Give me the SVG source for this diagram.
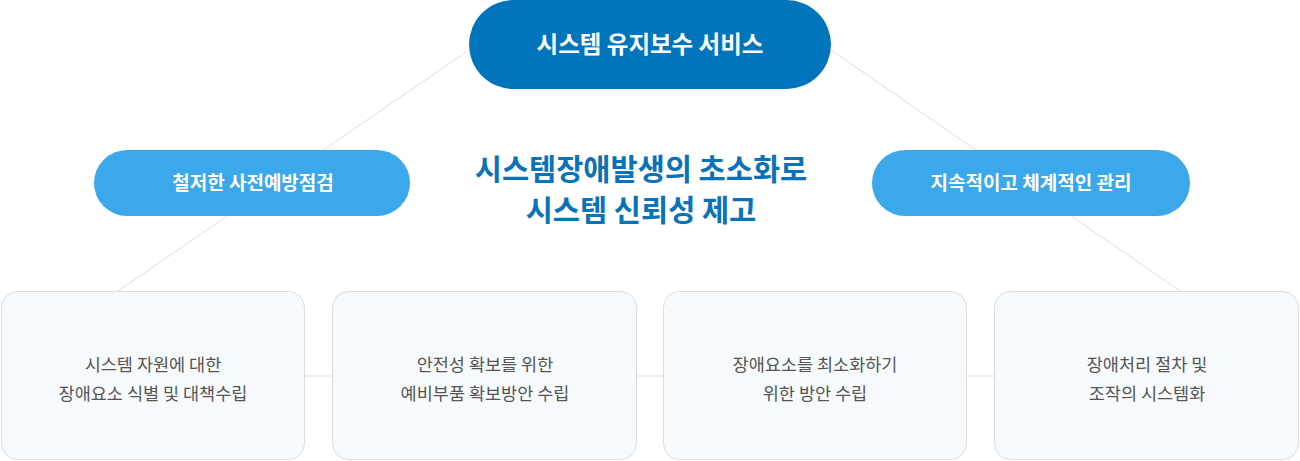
<svg xmlns="http://www.w3.org/2000/svg" width="1300" height="461" viewBox="0 0 1300 461">
<style>
text{font-family:"Noto Sans CJK KR","Noto Sans",sans-serif;text-anchor:middle}
.ln{stroke:#dddddd;stroke-width:1;fill:none}
.pill{fill:#3aa8ea}
.pt{fill:#fff;font-size:19px;font-weight:700}
.box{fill:#f7fafd;stroke:#dcdcdc;stroke-width:1}
.bt{fill:#555;font-size:17.5px}
.ct{fill:#0a72b9;font-size:29.5px;font-weight:700}
</style>
<rect width="1300" height="461" fill="#fff"/>
<g id="connectors">
<line class="ln" x1="469" y1="50" x2="118" y2="291"/>
<line class="ln" x1="831" y1="50" x2="1180" y2="291"/>
<line class="ln" x1="305" y1="376" x2="332" y2="376"/>
<line class="ln" x1="637" y1="376" x2="663" y2="376"/>
<line class="ln" x1="967" y1="376" x2="994" y2="376"/>
</g>
<g id="top">
<rect x="469" y="0" width="362" height="89" rx="44.5" fill="#0175bc"/>
<text x="650" y="53" fill="#fff" font-size="23.5" font-weight="700">시스템 유지보수 서비스</text>
</g>
<g id="left">
<rect class="pill" x="94" y="150" width="316" height="66" rx="33"/>
<text class="pt" x="253" y="190">철저한 사전예방점검</text>
</g>
<g id="right">
<rect class="pill" x="872" y="150" width="318" height="66" rx="33"/>
<text class="pt" x="1031" y="190">지속적이고 체계적인 관리</text>
</g>
<g id="center">
<text class="ct" x="641" y="180">시스템장애발생의 초소화로</text>
<text class="ct" x="641" y="221">시스템 신뢰성 제고</text>
</g>
<g id="box1">
<rect class="box" x="1.5" y="291.5" width="303" height="168" rx="16"/>
<text class="bt" x="153" y="371">시스템 자원에 대한</text>
<text class="bt" x="153" y="400">장애요소 식별 및 대책수립</text>
</g>
<g id="box2">
<rect class="box" x="332.5" y="291.5" width="304" height="168" rx="16"/>
<text class="bt" x="485" y="371">안전성 확보를 위한</text>
<text class="bt" x="485" y="400">예비부품 확보방안 수립</text>
</g>
<g id="box3">
<rect class="box" x="663.5" y="291.5" width="303" height="168" rx="16"/>
<text class="bt" x="815" y="371">장애요소를 최소화하기</text>
<text class="bt" x="815" y="400">위한 방안 수립</text>
</g>
<g id="box4">
<rect class="box" x="994.5" y="291.5" width="304" height="168" rx="16"/>
<text class="bt" x="1147" y="371">장애처리 절차 및</text>
<text class="bt" x="1147" y="400">조작의 시스템화</text>
</g>
</svg>
